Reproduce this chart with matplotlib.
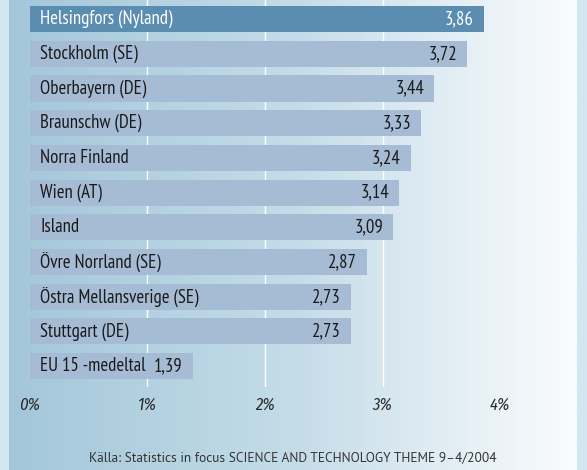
import numpy as np
import matplotlib.pyplot as plt
from matplotlib.colors import LinearSegmentedColormap

regions = ['Helsingfors (Nyland)', 'Stockholm (SE)', 'Oberbayern (DE)', 'Braunschw (DE)',
           'Norra Finland', 'Wien (AT)', 'Island', 'Övre Norrland (SE)',
           'Östra Mellansverige (SE)', 'Stuttgart (DE)', 'EU 15 -medeltal']
values = [3.86, 3.72, 3.44, 3.33, 3.24, 3.14, 3.09, 2.87, 2.73, 2.73, 1.39]
xticks = [0, 1, 2, 3, 4]
xtick_labels = ['0%', '1%', '2%', '3%', '4%']
source = 'Källa: Statistics in focus SCIENCE AND TECHNOLOGY THEME 9\u20134/2004'

W, H = 587, 470
fig = plt.figure(figsize=(W / 100, H / 100), dpi=100)

# background: gradient panel with light stripes on both sides
bg = fig.add_axes([0, 0, 1, 1], zorder=0)
bg.set_axis_off()
cmap = LinearSegmentedColormap.from_list('bg', ['#a3c7da', '#c4dce8', '#fafcfd'])
bg.imshow(np.linspace(0, 1, 256)[None, :], aspect='auto', cmap=cmap,
          extent=[9, 577, 0, H])
bg.axvspan(0, 9, color='#d4e6f0', lw=0)
bg.axvspan(577, W, color='#d4e6f0', lw=0)
bg.set_xlim(0, W)
bg.set_ylim(0, H)

narrow = ['PT Sans Narrow', 'DejaVu Sans']
cond = ['Fira Sans Condensed', 'DejaVu Sans']

ax = fig.add_axes([29.5 / W, 1 - 387 / H, (500.3 - 29.5) / W, 387 / H], zorder=1)
ax.patch.set_alpha(0)
ypos = np.arange(len(regions))
colors = ['#5a8db0'] + ['#a6bcd4'] * (len(regions) - 1)
ax.barh(ypos, values, height=0.75, color=colors, zorder=2)
for x in xticks[1:4]:
    ax.axvline(x, color='white', lw=1, zorder=1)
ax.set_xlim(0, 4)
ax.set_ylim(10.6, -0.55)

for i, (name, v) in enumerate(zip(regions, values)):
    tc = 'white' if i == 0 else '#1a1a1a'
    ax.text(0.09, i, name, va='center', ha='left', fontsize=13.5,
            color=tc, family=narrow, zorder=3)
    ax.text(v - 0.085, i, f'{v:.2f}'.replace('.', ','), va='center', ha='right',
            fontsize=13.5, color=tc, family=narrow, zorder=3)

ax.set_xticks(xticks)
ax.set_xticklabels(xtick_labels, fontsize=12, style='italic', family=cond,
                   color='#2a2a2a', fontweight='normal')
ax.set_yticks([])
ax.tick_params(axis='x', length=0, pad=7)
for s in ax.spines.values():
    s.set_visible(False)

fig.text(293 / W, 1 - 458 / H, source, ha='center', va='center', fontsize=9.6,
         color='#333333', family=['PT Sans', 'DejaVu Sans'])

fig.savefig('out.png', dpi=100)
